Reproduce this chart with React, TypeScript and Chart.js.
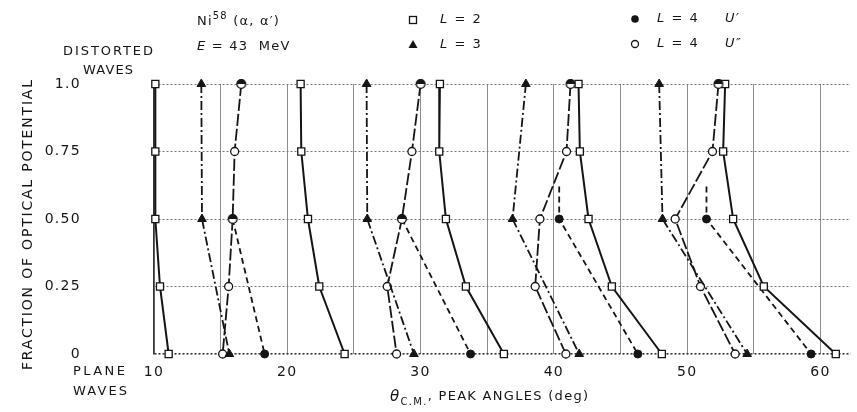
import React, { useEffect, useRef } from 'react';
import { Chart, registerables } from 'chart.js';

Chart.register(...registerables);

// ---------- data (x = peak angle in degrees, y = fraction of optical potential) ----------
const fractions = [1.0, 0.75, 0.5, 0.25, 0];
const l3Fractions = [1.0, 0.5, 0];
const uPrimeFractions = [0.5, 0];
const uPrimeStubFractions = [0.62, 0.5, 0];

// L = 2 (open squares, solid line)
const l2Peak1 = [10.1, 10.1, 10.1, 10.45, 11.1];
const l2Peak2 = [21.0, 21.05, 21.55, 22.4, 24.3];
const l2Peak3 = [31.45, 31.4, 31.9, 33.4, 36.25];
const l2Peak4 = [41.85, 41.95, 42.6, 44.35, 48.1];
const l2Peak5 = [52.85, 52.7, 53.45, 55.75, 61.15];

// L = 3 (filled triangles, dash-dot line)
const l3Peak1 = [13.55, 13.6, 15.65];
const l3Peak2 = [25.95, 26.0, 29.5];
const l3Peak3 = [37.9, 36.9, 41.9];
const l3Peak4 = [47.9, 48.15, 54.5];

// L = 4, U'' (open circles, long dash)
const u2Peak1 = [16.55, 16.05, 15.9, 15.6, 15.15];
const u2Peak2 = [30.0, 29.35, 28.6, 27.5, 28.2];
const u2Peak3 = [41.25, 40.95, 38.95, 38.6, 40.9];
const u2Peak4 = [52.35, 51.9, 49.1, 51.0, 53.6];

// L = 4, U' (filled circles, short dash)
const u1Peak1 = [15.9, 18.3];
const u1Peak2 = [28.6, 33.75];
const u1Peak3 = [40.4, 40.4, 46.3];
const u1Peak4 = [51.45, 51.45, 59.3];

const xTickDegrees = [10, 15, 20, 25, 30, 35, 40, 45, 50, 55, 60];
const xTickLabels = ['10', '', '20', '', '30', '', '40', '', '50', '', '60'];
const yTickValues = [0, 0.25, 0.5, 0.75, 1.0];
const yTickLabels = ['0', '0.25', '0.50', '0.75', '1.0'];

const X_MIN = 10;
const X_MAX = 62.27;

const pts = (xs: number[], ys: number[]) => xs.map((x, i) => ({ x, y: ys[i] }));

const INK = '#151515';
const FONT = '"DejaVu Sans", sans-serif';

function makeHalfCircle(): HTMLCanvasElement {
  const c = document.createElement('canvas');
  c.width = 12;
  c.height = 12;
  const g = c.getContext('2d')!;
  const r = 4.3;
  g.beginPath();
  g.arc(6, 6, r, 0, Math.PI * 2);
  g.fillStyle = '#fff';
  g.fill();
  g.beginPath();
  g.arc(6, 6, r, Math.PI, 0);
  g.closePath();
  g.fillStyle = INK;
  g.fill();
  g.beginPath();
  g.arc(6, 6, r, 0, Math.PI * 2);
  g.lineWidth = 1.3;
  g.strokeStyle = INK;
  g.stroke();
  return c;
}

type Run = { text: string; font: string; dy?: number };

function drawRuns(ctx: CanvasRenderingContext2D, runs: Run[], x: number, y: number, spacing = 1.2) {
  let cx = x;
  (ctx as any).letterSpacing = spacing + 'px';
  ctx.textAlign = 'left';
  ctx.textBaseline = 'middle';
  for (const r of runs) {
    ctx.font = r.font;
    ctx.fillText(r.text, cx, y + (r.dy || 0));
    cx += ctx.measureText(r.text).width;
  }
}

function drawFitted(ctx: CanvasRenderingContext2D, text: string, cx: number, cy: number, width: number, font: string) {
  ctx.font = font;
  (ctx as any).letterSpacing = '0px';
  const w = ctx.measureText(text).width;
  const n = text.length;
  const sp = Math.max(0, (width - w) / Math.max(1, n - 1));
  (ctx as any).letterSpacing = sp + 'px';
  ctx.textAlign = 'left';
  ctx.textBaseline = 'middle';
  ctx.fillText(text, cx - width / 2, cy);
}

const decorPlugin = {
  id: 'decor',
  beforeDraw(chart: any) {
    (chart.ctx as any).letterSpacing = '1.3px';
  },
  afterDraw(chart: any) {
    const ctx: CanvasRenderingContext2D = chart.ctx;
    ctx.save();
    ctx.fillStyle = INK;
    ctx.strokeStyle = INK;
    const f13 = `13px ${FONT}`;

    // left annotations
    drawFitted(ctx, 'DISTORTED', 108, 52, 90, f13);
    drawFitted(ctx, 'WAVES', 108, 71, 50, f13);
    drawFitted(ctx, 'PLANE', 99, 372, 52, f13);
    drawFitted(ctx, 'WAVES', 100, 392, 54, f13);

    // y title (rotated)
    ctx.save();
    ctx.translate(28, 225);
    ctx.rotate(-Math.PI / 2);
    drawFitted(ctx, 'FRACTION OF OPTICAL POTENTIAL', 0, 0, 290, `14px ${FONT}`);
    ctx.restore();

    // x title
    ctx.fillStyle = INK;
    drawRuns(ctx, [
      { text: 'θ', font: `italic 15px ${FONT}` },
      { text: 'C.M.', font: `10px ${FONT}`, dy: 5 },
      { text: ', PEAK ANGLES (deg)', font: f13 },
    ], 390, 397, 1.3);

    // header text
    drawRuns(ctx, [
      { text: 'Ni', font: f13 },
      { text: '58', font: `10px ${FONT}`, dy: -6 },
      { text: ' (α, α′)', font: f13 },
    ], 197, 22, 1.2);
    drawRuns(ctx, [
      { text: 'E', font: `italic 13px ${FONT}` },
      { text: ' = 43  MeV', font: f13 },
    ], 197, 47, 1.2);

    // legend markers
    ctx.setLineDash([]);
    ctx.lineWidth = 1.3;
    ctx.fillStyle = '#fff';
    ctx.fillRect(409.5, 16.5, 7, 7);
    ctx.strokeRect(409.5, 16.5, 7, 7);
    ctx.fillStyle = INK;
    ctx.beginPath();
    ctx.moveTo(413, 40);
    ctx.lineTo(417.5, 48);
    ctx.lineTo(408.5, 48);
    ctx.closePath();
    ctx.fill();
    ctx.beginPath();
    ctx.arc(635, 19, 3.8, 0, Math.PI * 2);
    ctx.fill();
    ctx.beginPath();
    ctx.arc(635, 44, 3.5, 0, Math.PI * 2);
    ctx.fillStyle = '#fff';
    ctx.fill();
    ctx.stroke();
    ctx.fillStyle = INK;

    drawRuns(ctx, [{ text: 'L', font: `italic 13px ${FONT}` }, { text: ' = 2', font: f13 }], 440, 20, 1.5);
    drawRuns(ctx, [{ text: 'L', font: `italic 13px ${FONT}` }, { text: ' = 3', font: f13 }], 440, 45, 1.5);
    drawRuns(ctx, [{ text: 'L', font: `italic 13px ${FONT}` }, { text: ' = 4', font: f13 }], 657, 19, 1.5);
    drawRuns(ctx, [{ text: 'L', font: `italic 13px ${FONT}` }, { text: ' = 4', font: f13 }], 657, 44, 1.5);
    drawRuns(ctx, [{ text: 'U′', font: `italic 13px ${FONT}` }], 725, 19, 1.5);
    drawRuns(ctx, [{ text: 'U″', font: `italic 13px ${FONT}` }], 725, 44, 1.5);

    ctx.restore();
    (ctx as any).letterSpacing = '0px';
  },
};

export default function App() {
  const ref = useRef<HTMLCanvasElement>(null);

  useEffect(() => {
    const canvas = ref.current!;
    const half = makeHalfCircle();

    const l2 = (xs: number[]) => ({
      data: pts(xs, fractions),
      borderColor: INK,
      borderWidth: 2,
      pointStyle: 'rect',
      pointRadius: 5,
      pointBackgroundColor: '#fff',
      pointBorderColor: INK,
      pointBorderWidth: 1.3,
      order: 2,
    });
    const l3 = (xs: number[]) => ({
      data: pts(xs, l3Fractions),
      borderColor: INK,
      borderWidth: 1.8,
      borderDash: [9, 3, 2, 3],
      pointStyle: 'triangle',
      pointRadius: 5,
      pointBackgroundColor: INK,
      pointBorderColor: INK,
      pointBorderWidth: 1,
      order: 3,
    });
    const u2 = (xs: number[]) => ({
      data: pts(xs, fractions),
      borderColor: INK,
      borderWidth: 1.8,
      borderDash: [12, 3],
      pointStyle: 'circle',
      pointRadius: 4,
      pointBackgroundColor: '#fff',
      pointBorderColor: INK,
      pointBorderWidth: 1.3,
      order: 4,
    });
    const u1 = (xs: number[], ys: number[], radii: number[]) => ({
      data: pts(xs, ys),
      borderColor: INK,
      borderWidth: 1.8,
      borderDash: [6, 4],
      pointStyle: 'circle',
      pointRadius: radii,
      pointBackgroundColor: INK,
      pointBorderColor: INK,
      pointBorderWidth: 1,
      order: 5,
    });

    const coincident = [
      { x: u2Peak1[0], y: fractions[0] },
      { x: u2Peak1[2], y: fractions[2] },
      { x: u2Peak2[0], y: fractions[0] },
      { x: u2Peak2[2], y: fractions[2] },
      { x: u2Peak3[0], y: fractions[0] },
      { x: u2Peak4[0], y: fractions[0] },
    ];

    const datasets: any[] = [
      {
        data: coincident,
        showLine: false,
        pointStyle: half,
        pointRadius: 5,
        order: 0,
      },
      l2(l2Peak1), l2(l2Peak2), l2(l2Peak3), l2(l2Peak4), l2(l2Peak5),
      l3(l3Peak1), l3(l3Peak2), l3(l3Peak3), l3(l3Peak4),
      u2(u2Peak1), u2(u2Peak2), u2(u2Peak3), u2(u2Peak4),
      u1(u1Peak1, uPrimeFractions, [4, 4]),
      u1(u1Peak2, uPrimeFractions, [4, 4]),
      u1(u1Peak3, uPrimeStubFractions, [0, 4, 4]),
      u1(u1Peak4, uPrimeStubFractions, [0, 4, 4]),
    ];
    datasets.forEach((d) => {
      d.clip = false;
      d.tension = 0;
      d.fill = false;
    });

    const chart = new Chart(canvas, {
      type: 'line',
      data: { datasets },
      options: {
        animation: false,
        responsive: false,
        devicePixelRatio: 1,
        layout: { padding: { top: 84, left: 0, right: 0, bottom: 0 } },
        plugins: { legend: { display: false }, tooltip: { enabled: false } },
        elements: { line: { borderCapStyle: 'butt' } },
        scales: {
          x: {
            type: 'linear',
            min: X_MIN,
            max: X_MAX,
            afterBuildTicks: (s: any) => {
              s.ticks = xTickDegrees.map((v) => ({ value: v }));
            },
            afterFit: (s: any) => {
              s.height = 58;
              s.paddingLeft = 0;
              s.paddingRight = 0;
            },
            ticks: {
              autoSkip: false,
              maxRotation: 0,
              padding: 10,
              color: INK,
              font: { family: FONT, size: 14 },
              callback: (v: any) => {
                const i = xTickDegrees.indexOf(Number(v));
                return i >= 0 ? xTickLabels[i] : '';
              },
            },
            grid: { color: '#8c8c8c', lineWidth: 1, drawTicks: false },
            border: { display: false },
          },
          y: {
            type: 'linear',
            min: 0,
            max: 1,
            afterBuildTicks: (s: any) => {
              s.ticks = yTickValues.map((v) => ({ value: v }));
            },
            afterFit: (s: any) => {
              s.width = 154;
              s.paddingTop = 0;
              s.paddingBottom = 0;
            },
            ticks: {
              padding: 73,
              color: INK,
              font: { family: FONT, size: 14 },
              callback: (v: any) => {
                const i = yTickValues.indexOf(Number(v));
                return i >= 0 ? yTickLabels[i] : '';
              },
            },
            grid: {
              drawTicks: false,
              color: (c: any) => (c.tick && c.tick.value === 0 ? '#333' : '#777'),
              lineWidth: (c: any) => (c.tick && c.tick.value === 0 ? 1.6 : 1),
            },
            border: { display: true, color: '#333', width: 1.5, dash: [2, 2] },
          },
        },
      },
      plugins: [decorPlugin],
    } as any);

    return () => chart.destroy();
  }, []);

  return (
    <div style={{ position: 'absolute', left: 0, top: 0, width: 857, height: 412, background: '#fff' }}>
      <canvas ref={ref} width={857} height={412} style={{ display: 'block', width: 857, height: 412 }} />
    </div>
  );
}
